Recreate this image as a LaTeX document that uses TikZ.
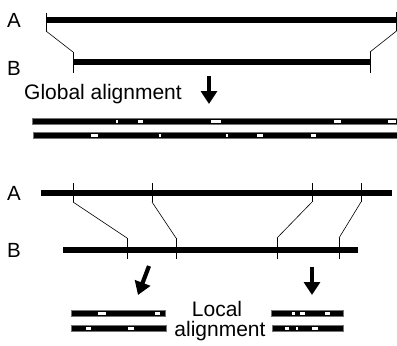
\documentclass[tikz,border=0pt]{standalone}
\usepackage{fontspec}
\setmainfont{Liberation Sans}
\usetikzlibrary{arrows.meta}
\begin{document}
\begin{tikzpicture}[x=1pt,y=-1pt,
  seq/.style={line width=6pt},
  tick/.style={line width=0.9pt},
  link/.style={line width=0.6pt},
  lbl/.style={font=\fontsize{20.5}{20.5}\selectfont, inner sep=0pt, anchor=base west},
  caption/.style={font=\fontsize{21}{21}\selectfont, inner sep=0pt, anchor=base},
  bigarrow/.style={line width=4.2pt, -{Triangle[width=16pt,length=13pt]}},
  aligned/.style={fill=black, draw=black!55, line width=0.6pt},
  gap/.style={fill=white}]
\useasboundingbox (0,0) rectangle (397,346);

% ---------- global: whole sequences ----------
\node[lbl] (A1) at (7,27) {A};
\node[lbl] (B1) at (7,75) {B};
\draw[seq] (46,20) -- (396.5,20);
\draw[seq] (73,62) -- (370,62);
\draw[tick] (46,13) -- (46,31) coordinate (a1l);
\draw[tick] (396.5,12) -- (396.5,31) coordinate (a1r);
\draw[tick] (73,73) -- (73,52) coordinate (b1l);
\draw[tick] (370,73) -- (370,52) coordinate (b1r);
\draw[link] (a1l) -- (b1l);
\draw[link] (a1r) -- (b1r);

\node[caption, anchor=base west] (glob) at (24,99) {Global alignment};
\coordinate (g0) at (209,76);
\coordinate (g1) at (209,104);
\draw[bigarrow] (g0) -- (g1);

% aligned pair, gaps as (centre/width)
\draw[aligned] (32,118.5) rectangle (397,124);
\foreach \c/\w in {117/1.5, 140/5, 216/10, 337/7, 392/8}
  \fill[gap] (\c-\w/2,119.8) rectangle (\c+\w/2,122.7);
\draw[aligned] (33,132.5) rectangle (397,138);
\foreach \c/\w in {94/7, 160/1.5, 227/1.5, 260/6, 313/5}
  \fill[gap] (\c-\w/2,133.8) rectangle (\c+\w/2,136.7);

% ---------- local: matching segments ----------
\node[lbl] (A2) at (7,200) {A};
\node[lbl] (B2) at (7,257) {B};
\draw[seq] (41,193) -- (392,193);
\draw[seq] (63,250) -- (358,250);
\foreach \x [count=\i] in {73,152,312,361}
  \draw[tick] (\x,183) -- (\x,202) coordinate (a2t\i);
\foreach \x [count=\i] in {127,176,277,339}
  \draw[tick] (\x,259) -- (\x,238) coordinate (b2t\i);
\foreach \i in {1,...,4}
  \draw[link] (a2t\i) -- (b2t\i);

\coordinate (l0) at (149,266);
\coordinate (l1) at (138,295);
\draw[bigarrow] (l0) -- (l1);
\coordinate (r0) at (312,267);
\coordinate (r1) at (312,295);
\draw[bigarrow] (r0) -- (r1);

% left local pair
\draw[aligned] (71,310.5) rectangle (165,316);
\foreach \c/\w in {102/8, 157/5}
  \fill[gap] (\c-\w/2,311.8) rectangle (\c+\w/2,314.7);
\draw[aligned] (71,325.5) rectangle (166,331);
\foreach \c/\w in {88/5, 131/6}
  \fill[gap] (\c-\w/2,326.8) rectangle (\c+\w/2,329.7);

% right local pair
\draw[aligned] (271,310.5) rectangle (343,316);
\foreach \c/\w in {293/3, 302/5, 327/5}
  \fill[gap] (\c-\w/2,311.8) rectangle (\c+\w/2,314.7);
\draw[aligned] (272,325.5) rectangle (343,331);
\foreach \c/\w in {287/4, 297/1.5, 315/6}
  \fill[gap] (\c-\w/2,326.8) rectangle (\c+\w/2,329.7);

\node[caption] (loc1) at (217,316) {Local};
\node[caption] (loc2) at (220,336) {alignment};
\end{tikzpicture}
\end{document}
